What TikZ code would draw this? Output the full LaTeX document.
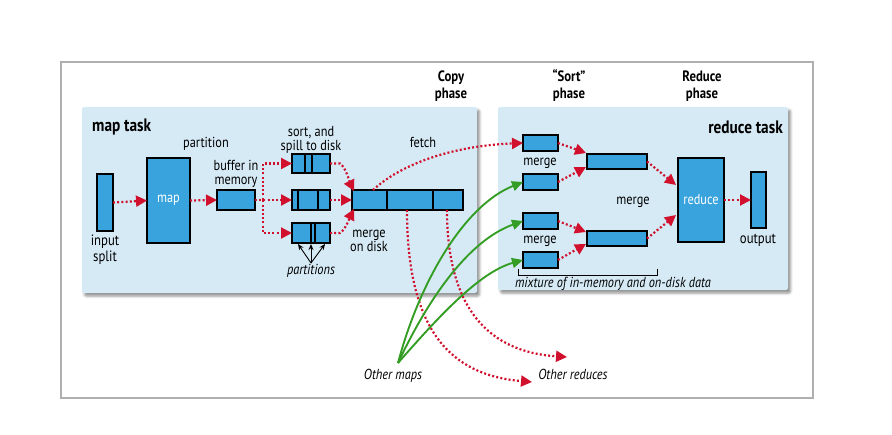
\documentclass[tikz,border=0pt]{standalone}
\usepackage{fontspec}
\setmainfont{PT Sans}[FakeStretch=0.85]
\usetikzlibrary{arrows.meta,shadows.blur,calc}
\definecolor{panelblue}{RGB}{214,234,246}
\definecolor{boxblue}{RGB}{56,163,220}
\definecolor{flowred}{RGB}{208,16,44}
\definecolor{mapgreen}{RGB}{52,158,36}
\definecolor{framegray}{RGB}{175,175,175}
\begin{document}
\begin{tikzpicture}[x=1pt,y=1pt,
  panel/.style={fill=panelblue,rounded corners=2pt,
    blur shadow={shadow xshift=2.5pt,shadow yshift=-3pt,shadow blur radius=2.5pt,shadow opacity=45}},
  blk/.style={draw=black,line width=1.3pt,fill=boxblue,inner sep=0pt,outer sep=0pt,anchor=north west},
  divider/.style={draw=black,line width=1.3pt},
  flow/.style={draw=flowred,line width=2.2pt,dash pattern=on 2pt off 2.2pt,
    -{Triangle[length=11pt,width=11pt]}},
  feed/.style={draw=mapgreen,line width=1.9pt,-{Triangle[length=11pt,width=10pt]}},
  ptr/.style={draw=black,line width=0.9pt,-{Stealth[length=6pt,width=5pt]}},
  lbl/.style={font=\fontsize{14.5}{13.5}\selectfont,align=center,inner sep=0pt},
  ilbl/.style={font=\fontsize{14.5}{13.5}\selectfont\itshape,align=center,inner sep=0pt},
  head/.style={font=\fontsize{15}{17}\selectfont\bfseries,align=center,inner sep=0pt},
  title/.style={font=\fontsize{18}{18}\selectfont\bfseries,inner sep=0pt},
  intext/.style={text=white,font=\fontsize{14.5}{14.5}\selectfont}
]
\useasboundingbox (0,0) rectangle (892,-434);
% outer frame
\draw[framegray,line width=1.2pt] (61,-62) rectangle (813,-398);

% task panels
\path[panel] (82,-107) rectangle (477,-293);
\path[panel] (498,-107) rectangle (788,-290);

% phase headings
\node[head] (copyph) at (451,-86) {Copy\\phase};
\node[head] (sortph) at (569,-86) {“Sort”\\phase};
\node[head] (redph) at (702,-86) {Reduce\\phase};
\node[title,anchor=west] (maptask) at (92,-127) {map task};
\node[title,anchor=east] (redtask) at (783,-127) {reduce task};

% map side blocks
\node[blk,minimum width=16pt,minimum height=57pt] (split) at (97,-174) {};
\node[blk,minimum width=43pt,minimum height=85pt,intext] (map) at (147,-158) {map};
\node[blk,minimum width=38pt,minimum height=20pt] (buf) at (217,-190) {};
\node[blk,minimum width=38pt,minimum height=19pt] (sp1) at (292,-154) {};
\node[blk,minimum width=38pt,minimum height=20pt] (sp2) at (292,-190) {};
\node[blk,minimum width=38pt,minimum height=20pt] (sp3) at (292,-223) {};
\node[blk,minimum width=111pt,minimum height=20pt] (mrg) at (352,-190) {};

\foreach \n/\a/\b in {sp1/13/20, sp2/6/26, sp3/19/23, mrg/35/81}{
  \draw[divider] ($(\n.north west)+(\a,0)$) -- ($(\n.south west)+(\a,0)$);
  \draw[divider] ($(\n.north west)+(\b,0)$) -- ($(\n.south west)+(\b,0)$);
}

% reduce side blocks
\node[blk,minimum width=35pt,minimum height=16pt] (r1) at (523,-135) {};
\node[blk,minimum width=35pt,minimum height=16pt] (r2) at (523,-174) {};
\node[blk,minimum width=35pt,minimum height=16pt] (r3) at (523,-213) {};
\node[blk,minimum width=35pt,minimum height=16pt] (r4) at (523,-252) {};
\node[blk,minimum width=60pt,minimum height=15pt] (m1) at (587,-154) {};
\node[blk,minimum width=60pt,minimum height=15pt] (m2) at (587,-231) {};
\node[blk,minimum width=46pt,minimum height=84pt,intext] (red) at (678,-158) {reduce};
\node[blk,minimum width=15pt,minimum height=56pt] (out) at (751,-172) {};

% labels
\node[lbl,font=\fontsize{15}{16}\selectfont] (splitlbl) at (105,-250) {input\\split};
\node[lbl] (partlbl) at (206,-144) {partition};
\node[lbl] (buflbl) at (236,-174) {buffer in\\memory};
\node[lbl] (spilllbl) at (311,-140) {sort, and\\spill to disk};
\node[lbl] (disklbl) at (369,-241) {merge\\on disk};
\node[lbl] (fetchlbl) at (423,-142) {fetch};
\node[ilbl] (partslbl) at (311,-271) {partitions};
\node[lbl] (mlbl1) at (540,-163) {merge};
\node[lbl] (mlbl2) at (540,-241) {merge};
\node[lbl] (mlbl3) at (633,-202) {merge};
\node[lbl,font=\fontsize{15}{15}\selectfont] (outlbl) at (758,-240) {output};
\node[ilbl] (mixlbl) at (613,-284) {mixture of in-memory and on-disk data};
\node[ilbl] (othmaps) at (393,-376) {Other maps};
\node[ilbl] (othred) at (573,-374) {Other reduces};
\coordinate (mapsrc) at (398,-363);
\coordinate (partsrc) at (311,-263);

% bracket under the merge inputs
\draw[line width=0.8pt] (518,-269) -- (518,-275) -- (657,-275) -- (657,-269);

% map task flow
\draw[flow] (split.east) -- (map.west);
\draw[flow] (map.east) -- (buf.west);
\draw[flow] (buf.east) -- ++(8,0) |- (sp1.west);
\draw[flow] (buf.east) -- (sp2.west);
\draw[flow] (buf.east) -- ++(8,0) |- (sp3.west);
\draw[flow] (sp1.east) -- ++(10,0) .. controls +(6,-4) and +(-4,8) .. ($(mrg.north west)+(2,-1)$);
\draw[flow] (sp2.east) -- (mrg.west);
\draw[flow] (sp3.east) -- ++(10,0) .. controls +(6,4) and +(-4,-8) .. ($(mrg.south west)+(2,1)$);

% partition pointers
\draw[ptr] (partsrc) -- ($(sp3.south west)+(6,-1)$);
\draw[ptr] (partsrc) -- ($(sp3.south west)+(19,-1)$);
\draw[ptr] (partsrc) -- ($(sp3.south west)+(33,-1)$);

% copy phase
\draw[flow] ($(mrg.north west)+(21,0)$) .. controls (400,-165) and (450,-146) .. (r1.west);
\draw[flow] ($(mrg.south west)+(55,0)$) .. controls (407,-330) and (450,-375) .. (532,-382);
\draw[flow] ($(mrg.south west)+(95,0)$) .. controls (447,-310) and (490,-352) .. (567,-357);

\draw[feed] (mapsrc) .. controls (420,-280) and (465,-205) .. (r2.west);
\draw[feed] (mapsrc) .. controls (430,-295) and (470,-240) .. (r3.west);
\draw[feed] (mapsrc) .. controls (440,-315) and (480,-272) .. (r4.west);

% sort and reduce phases
\draw[flow] (r1.east) -- ($(m1.north west)+(-1,1)$);
\draw[flow] (r2.east) -- ($(m1.south west)+(-1,2)$);
\draw[flow] (r3.east) -- ($(m2.north west)+(-1,-1)$);
\draw[flow] (r4.east) -- ($(m2.south west)+(-1,2)$);
\draw[flow] (m1.east) -- ($(red.west)+(-2,15)$);
\draw[flow] (m2.east) -- ($(red.west)+(-2,-15)$);
\draw[flow] (red.east) -- (out.west);
\end{tikzpicture}
\end{document}
